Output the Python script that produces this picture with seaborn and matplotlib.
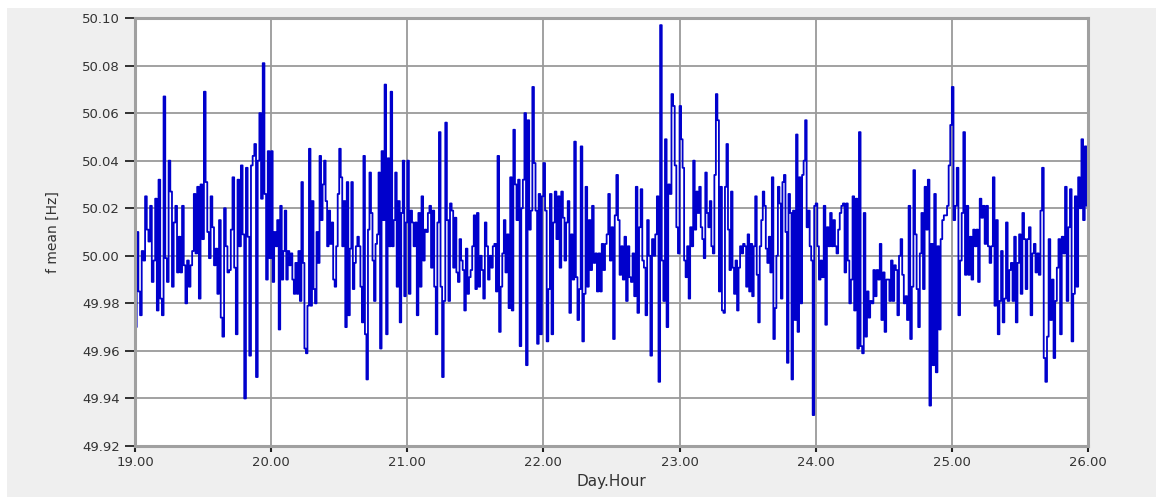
import numpy as np
import pandas as pd
import matplotlib
matplotlib.use("Agg")
import matplotlib.pyplot as plt
from matplotlib.patches import Rectangle
import seaborn as sns

# f mean [Hz], one list per day
f_day19 = [49.970, 50.010, 49.985, 49.975, 50.002, 49.998, 50.025, 50.011, 50.006, 50.021, 49.989, 49.998,
           50.024, 49.977, 50.032, 49.982, 49.975, 50.067, 49.999, 49.989, 50.040, 50.027, 49.987, 50.014,
           50.021, 49.993, 50.008, 49.993, 50.021, 49.996, 49.980, 49.998, 49.987, 49.996, 50.002, 50.026,
           50.001, 50.029, 49.982, 50.030, 50.007, 50.069, 50.031, 50.010, 49.999, 50.025, 50.012, 49.996,
           50.003, 49.984, 50.015, 49.974, 49.966, 50.020, 50.004, 49.993, 49.994, 50.011, 50.033, 49.995,
           49.967, 50.032, 50.004, 50.038, 50.009, 49.940, 50.037, 50.008, 49.958, 50.038, 50.042, 50.047,
           49.949, 50.040, 50.060, 50.024, 50.081, 50.026, 49.990, 50.044, 49.999]
f_day20 = [50.044, 49.989, 50.010, 50.004, 50.015, 49.969, 50.021, 49.990, 50.002, 50.019, 49.990, 50.002,
           49.996, 50.001, 49.990, 49.984, 49.997, 49.984, 50.002, 49.981, 50.031, 49.997, 49.961, 49.959,
           49.979, 50.045, 49.979, 50.023, 49.986, 49.980, 50.010, 49.997, 50.042, 50.015, 50.030, 50.040,
           50.023, 50.004, 50.019, 50.005, 50.014, 49.990, 49.987, 50.004, 50.026, 50.045, 50.033, 50.004,
           50.023, 49.970, 50.031, 49.975, 50.003, 50.031, 49.986, 49.997, 50.004, 50.008, 50.004, 49.987,
           49.972, 50.042, 49.967, 49.948, 50.011, 50.035, 50.018, 49.998, 49.981, 50.005, 50.009, 50.035,
           49.961, 50.044, 50.015, 50.072, 49.967, 50.041, 50.004, 50.069, 50.004, 50.015, 50.035, 49.987,
           50.023, 49.972, 50.018, 50.040, 49.983, 50.014]
f_day21 = [50.040, 49.984, 50.019, 50.014, 50.004, 50.014, 49.975, 50.018, 49.987, 50.025, 49.998, 50.011,
           50.010, 50.018, 50.021, 49.995, 50.019, 49.987, 49.967, 50.014, 50.052, 49.987, 49.949, 49.981,
           50.056, 50.015, 49.981, 50.022, 50.019, 49.995, 50.016, 49.993, 49.989, 50.007, 49.998, 49.994,
           49.977, 50.003, 49.984, 49.991, 49.994, 50.004, 50.017, 49.986, 50.018, 49.987, 50.000, 49.994,
           49.982, 50.014, 50.004, 49.990, 50.000, 49.995, 50.004, 50.005, 49.985, 50.042, 49.968, 49.987,
           50.001, 50.015, 49.993, 50.009, 49.978, 50.033, 49.977, 50.053, 50.030, 50.015, 50.032, 49.962,
           50.020, 50.032, 50.060, 49.954, 50.057, 50.011, 50.019, 50.071, 50.039, 50.019, 49.963, 50.026,
           49.967, 50.025]
f_day22 = [50.039, 50.019, 49.964, 49.986, 50.026, 49.967, 50.014, 50.027, 50.007, 50.025, 49.995, 50.027,
           50.016, 49.998, 50.014, 50.023, 49.976, 50.009, 49.990, 50.048, 49.991, 49.973, 49.986, 50.046,
           49.964, 49.984, 50.029, 49.987, 50.015, 49.994, 50.021, 49.997, 50.001, 49.985, 50.001, 49.985,
           50.005, 49.994, 50.005, 50.009, 50.026, 49.998, 50.012, 49.965, 50.017, 50.034, 50.015, 49.992,
           50.004, 49.990, 50.008, 49.981, 50.004, 49.991, 49.989, 50.001, 49.983, 50.029, 49.976, 50.012,
           50.028, 49.998, 49.995, 49.975, 50.015, 50.000, 49.958, 50.007, 50.000, 50.009, 50.025, 49.947,
           50.097, 49.998, 49.981, 50.049, 49.970, 50.030, 50.026, 50.068, 50.063, 50.038, 50.012, 50.001]
f_day23 = [50.063, 50.049, 50.037, 49.998, 49.991, 50.004, 49.982, 50.012, 50.004, 50.040, 50.011, 50.027,
           50.018, 50.029, 50.012, 50.007, 49.999, 50.035, 50.018, 50.012, 50.023, 50.004, 50.001, 50.034,
           50.068, 50.057, 49.985, 50.029, 49.977, 49.976, 50.029, 50.047, 50.011, 49.994, 50.027, 49.995,
           49.984, 49.998, 49.977, 49.995, 50.004, 50.001, 50.005, 50.004, 49.987, 50.009, 49.985, 50.005,
           49.983, 50.004, 50.025, 49.992, 49.972, 50.004, 50.015, 50.027, 50.021, 50.003, 49.997, 50.008,
           49.993, 50.033, 49.965, 49.978, 50.000, 50.029, 50.022, 49.982, 50.031, 50.034, 50.010, 49.955,
           50.026, 50.018, 49.948, 50.019, 49.973, 50.051, 49.968, 50.033, 49.980, 50.034, 50.040, 50.057,
           50.012, 50.019, 50.004, 49.998, 49.933, 50.021]
f_day24 = [50.022, 50.004, 49.990, 49.998, 49.991, 50.021, 49.971, 50.012, 50.004, 50.018, 50.004, 50.015,
           50.004, 50.001, 50.011, 50.018, 50.021, 50.022, 49.993, 50.022, 49.998, 49.980, 49.990, 50.025,
           49.977, 50.024, 49.961, 50.052, 49.962, 49.959, 50.018, 49.966, 49.985, 49.974, 49.981, 49.980,
           49.994, 49.983, 49.994, 49.990, 50.005, 49.973, 49.993, 49.968, 49.990, 49.990, 49.981, 49.998,
           49.981, 49.996, 49.994, 49.975, 50.000, 50.007, 49.992, 49.980, 49.983, 49.973, 50.021, 49.965,
           49.987, 50.036, 50.009, 49.986, 49.970, 50.001, 50.018, 49.986, 50.029, 50.011, 50.032, 49.937,
           50.005, 49.954, 50.026, 49.951, 50.004, 49.969, 50.007, 50.015, 50.017, 50.017, 50.021, 50.038,
           50.055]
f_day25 = [50.071, 50.015, 50.021, 50.037, 49.975, 49.998, 50.018, 50.052, 49.992, 50.021, 49.992, 50.008,
           49.990, 50.011, 50.004, 50.011, 49.989, 50.024, 50.016, 50.021, 50.005, 50.021, 50.004, 49.997,
           50.004, 50.033, 49.979, 50.015, 49.967, 49.981, 50.002, 49.972, 49.982, 50.014, 49.981, 49.994,
           49.997, 49.981, 50.008, 49.972, 49.997, 50.009, 49.984, 50.018, 50.007, 49.986, 50.007, 50.012,
           49.975, 50.001, 50.005, 49.993, 50.001, 49.992, 50.019, 50.037, 49.957, 49.947, 49.966, 50.007,
           49.973, 49.990, 49.957, 49.981, 49.995, 50.007, 49.967, 50.008, 50.001, 50.029, 49.981, 50.012,
           50.028, 49.964, 49.984, 50.025, 49.987, 50.033, 50.020, 50.049, 50.015, 50.046, 50.021]

days = [19, 20, 21, 22, 23, 24, 25]
day_lists = [f_day19, f_day20, f_day21, f_day22, f_day23, f_day24, f_day25]

t, f = [], []
for d, vals in zip(days, day_lists):
    n = len(vals)
    for i, v in enumerate(vals):
        t.append(d + i / n)
        f.append(v)
df = pd.DataFrame({"t": t, "f": f})

yticks = [49.92, 49.94, 49.96, 49.98, 50.00, 50.02, 50.04, 50.06, 50.08, 50.10]
xticks = [19, 20, 21, 22, 23, 24, 25, 26]

sns.set_style("white")
plt.rcParams["font.family"] = ["DejaVu Sans"]

fig = plt.figure(figsize=(11.56, 4.97), dpi=100)
fig.patch.set_facecolor("white")
# grey panel behind the chart, white strip at top and left
fig.add_artist(Rectangle((7 / 1156, 0), 1 - 7 / 1156, 1 - 8 / 497, transform=fig.transFigure,
                         facecolor="#efefef", edgecolor="none", zorder=-10))
ax = fig.add_axes([135 / 1156, 1 - 446 / 497, (1088 - 135) / 1156, (446 - 18) / 497])
ax.set_facecolor("white")

sns.lineplot(data=df, x="t", y="f", color="#0000cc", linewidth=1.3, drawstyle="steps-post",
             estimator=None, ax=ax)

ax.set_xlim(19, 26)
ax.set_ylim(49.92, 50.10)
ax.set_xticks(xticks)
ax.set_xticklabels([f"{x:.2f}" for x in xticks])
ax.set_yticks(yticks)
ax.set_yticklabels([f"{y:.2f}" for y in yticks])
ax.grid(True, color="#9a9a9a", linewidth=1.3)
ax.set_axisbelow(True)
for s in ax.spines.values():
    s.set_color("#a0a0a0")
    s.set_linewidth(2.2)
ax.tick_params(axis="y", direction="out", length=7, width=1.3, color="#222222", pad=4,
               labelsize=9.5, labelcolor="#333333", left=True)
ax.tick_params(axis="x", direction="out", length=4, width=1.5, color="#222222", pad=3,
               labelsize=9.5, labelcolor="#333333", bottom=True)
ax.set_xlabel("Day.Hour", fontsize=11, color="#333333", labelpad=4)
ax.set_ylabel("f mean [Hz]", fontsize=10, color="#333333", labelpad=16)

fig.savefig("out.png", dpi=100)
